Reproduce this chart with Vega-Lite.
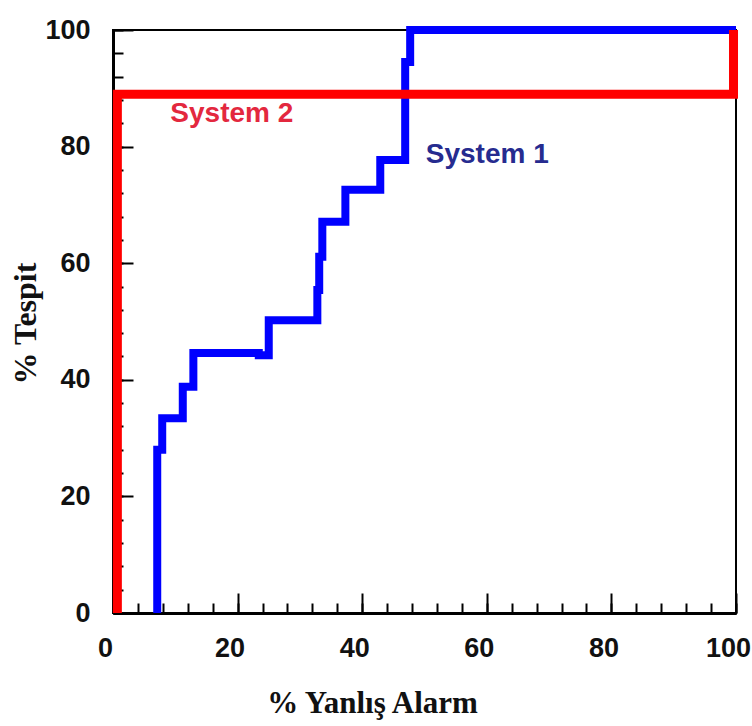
{
  "$schema": "https://vega.github.io/schema/vega-lite/v6.json",
  "width": 623,
  "height": 583,
  "autosize": {"type": "none"},
  "padding": {"left": 113, "top": 30, "right": 16, "bottom": 113},
  "background": "#ffffff",
  "config": {
    "view": {"stroke": "#000000", "strokeWidth": 2},
    "axis": {
      "grid": false,
      "domainColor": "#000000",
      "domainWidth": 3,
      "tickColor": "#000000",
      "tickWidth": 2,
      "labelFont": "Liberation Sans",
      "labelFontWeight": "bold",
      "labelFontSize": 27,
      "labelColor": "#111111",
      "labelOverlap": false,
      "labelFlush": false,
      "titleFont": "Liberation Serif",
      "titleFontWeight": "bold",
      "titleColor": "#111111"
    }
  },
  "datasets": {
    "curves": [
      {"system": "System 1", "order": 0, "fa": 7.1, "det": 0},
      {"system": "System 1", "order": 1, "fa": 7.1, "det": 28},
      {"system": "System 1", "order": 2, "fa": 7.9, "det": 28},
      {"system": "System 1", "order": 3, "fa": 7.9, "det": 33.4},
      {"system": "System 1", "order": 4, "fa": 11.2, "det": 33.4},
      {"system": "System 1", "order": 5, "fa": 11.2, "det": 38.8},
      {"system": "System 1", "order": 6, "fa": 12.9, "det": 38.8},
      {"system": "System 1", "order": 7, "fa": 12.9, "det": 44.6},
      {"system": "System 1", "order": 8, "fa": 23.4, "det": 44.6},
      {"system": "System 1", "order": 9, "fa": 23.4, "det": 44.2},
      {"system": "System 1", "order": 10, "fa": 25.0, "det": 44.2},
      {"system": "System 1", "order": 11, "fa": 25.0, "det": 50.2},
      {"system": "System 1", "order": 12, "fa": 32.8, "det": 50.2},
      {"system": "System 1", "order": 13, "fa": 32.8, "det": 55.4},
      {"system": "System 1", "order": 14, "fa": 33.1, "det": 55.4},
      {"system": "System 1", "order": 15, "fa": 33.1, "det": 61.1},
      {"system": "System 1", "order": 16, "fa": 33.6, "det": 61.1},
      {"system": "System 1", "order": 17, "fa": 33.6, "det": 67.1},
      {"system": "System 1", "order": 18, "fa": 37.3, "det": 67.1},
      {"system": "System 1", "order": 19, "fa": 37.3, "det": 72.6},
      {"system": "System 1", "order": 20, "fa": 42.9, "det": 72.6},
      {"system": "System 1", "order": 21, "fa": 42.9, "det": 77.7},
      {"system": "System 1", "order": 22, "fa": 46.9, "det": 77.7},
      {"system": "System 1", "order": 23, "fa": 46.9, "det": 94.5},
      {"system": "System 1", "order": 24, "fa": 47.7, "det": 94.5},
      {"system": "System 1", "order": 25, "fa": 47.7, "det": 100},
      {"system": "System 1", "order": 26, "fa": 100, "det": 100},
      {"system": "System 2", "order": 0, "fa": 0.7, "det": 0},
      {"system": "System 2", "order": 1, "fa": 0.7, "det": 89},
      {"system": "System 2", "order": 2, "fa": 99.6, "det": 89},
      {"system": "System 2", "order": 3, "fa": 99.6, "det": 100}
    ],
    "labels": [
      {"text": "System 2", "fa": 9.2, "det": 84.2, "color": "#e3283e"},
      {"text": "System 1", "fa": 50.2, "det": 77.2, "color": "#262b8f"}
    ]
  },
  "resolve": {"axis": {"x": "independent", "y": "independent"}},
  "layer": [
    {
      "mark": {"type": "rule", "color": "#000000", "strokeWidth": 4},
      "encoding": {
        "y": {"datum": 100, "type": "quantitative", "scale": {"domain": [0, 100], "nice": false, "zero": false}, "axis": null}
      }
    },
    {
      "data": {"name": "curves"},
      "transform": [{"filter": "datum.system === 'System 1'"}],
      "mark": {"type": "line", "color": "#0000ff", "strokeWidth": 8, "strokeJoin": "miter"},
      "encoding": {
        "x": {
          "field": "fa", "type": "quantitative",
          "scale": {"domain": [0, 100], "nice": false, "zero": false},
          "axis": {
            "orient": "bottom",
            "values": [0,4,8,12,16,20,24,28,32,36,40,44,48,52,56,60,64,68,72,76,80,84,88,92,96,100],
            "labels": false,
            "tickSize": -10,
            "title": null
          }
        },
        "y": {
          "field": "det", "type": "quantitative",
          "scale": {"domain": [0, 100], "nice": false, "zero": false},
          "axis": {
            "orient": "left",
            "values": [0,4,8,12,16,20,24,28,32,36,40,44,48,52,56,60,64,68,72,76,80,84,88,92,96,100],
            "labels": false,
            "tickSize": -10,
            "title": null
          }
        },
        "order": {"field": "order", "type": "quantitative"}
      }
    },
    {
      "data": {"name": "curves"},
      "transform": [{"filter": "datum.system === 'System 2'"}],
      "mark": {"type": "line", "color": "#ff0000", "strokeWidth": 9, "strokeJoin": "miter"},
      "encoding": {
        "x": {
          "field": "fa", "type": "quantitative",
          "axis": {
            "orient": "bottom",
            "values": [0, 20, 40, 60, 80, 100],
            "tickSize": -20,
            "labelPadding": 42,
            "labelOffset": -8,
            "title": "% Yanlış Alarm",
            "titleFontSize": 31,
            "titleX": 259,
            "titleY": 99,
            "titleBaseline": "alphabetic",
            "titleAlign": "center"
          }
        },
        "y": {
          "field": "det", "type": "quantitative",
          "axis": {
            "orient": "left",
            "values": [0, 20, 40, 60, 80, 100],
            "tickSize": -20,
            "labelPadding": 43,
            "title": "% Tespit",
            "titleFontSize": 32,
            "titleAngle": -90,
            "titleX": -88,
            "titleY": 293,
            "titleAlign": "center",
            "titleBaseline": "middle"
          }
        },
        "order": {"field": "order", "type": "quantitative"}
      }
    },
    {
      "data": {"name": "labels"},
      "mark": {"type": "text", "font": "Liberation Sans", "fontWeight": "bold", "fontSize": 28, "align": "left", "baseline": "alphabetic"},
      "encoding": {
        "x": {"field": "fa", "type": "quantitative", "axis": null},
        "y": {"field": "det", "type": "quantitative", "axis": null},
        "text": {"field": "text"},
        "color": {"field": "color", "type": "nominal", "scale": null}
      }
    }
  ]
}
